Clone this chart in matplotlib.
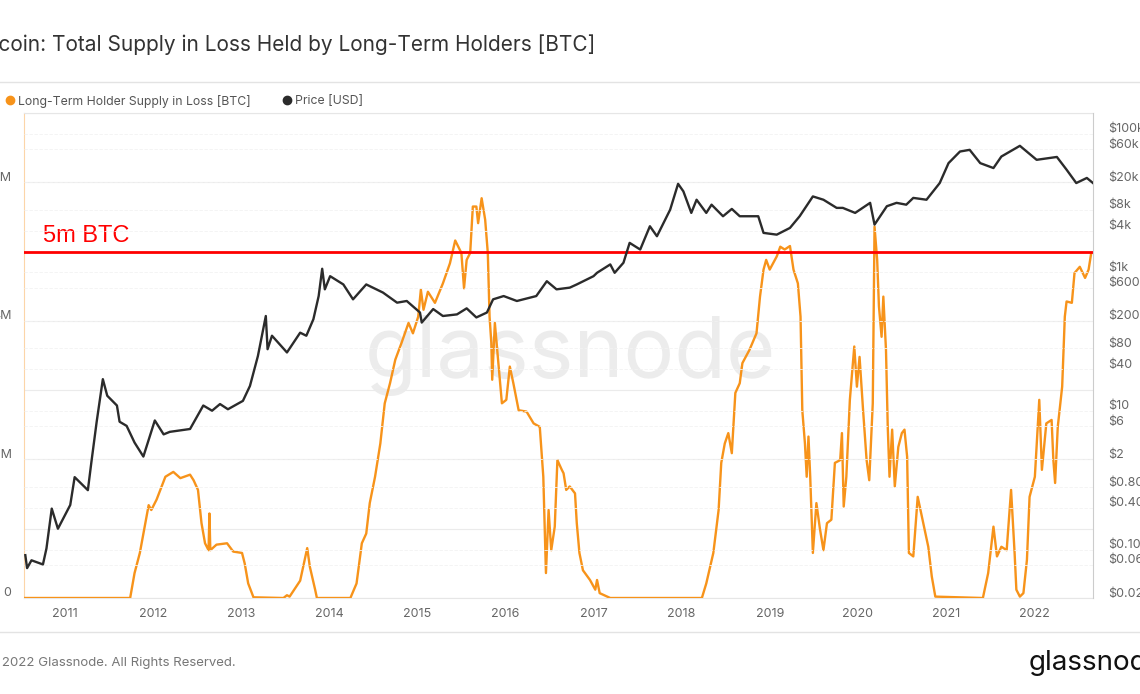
import matplotlib.pyplot as plt
import matplotlib.transforms as mtransforms
from matplotlib.lines import Line2D
from matplotlib.ticker import NullLocator

plt.rcParams['font.family'] = ['Inter', 'DejaVu Sans']

# BTC price [USD], x in decimal years
price_t = [2010.55, 2010.57, 2010.62, 2010.75, 2010.79, 2010.85, 2010.92, 2011.06, 2011.11, 2011.26,
           2011.30, 2011.36, 2011.43, 2011.48, 2011.59, 2011.62, 2011.70, 2011.79, 2011.89, 2012.02,
           2012.12, 2012.19, 2012.42, 2012.57, 2012.67, 2012.76, 2012.85, 2013.02, 2013.10, 2013.19,
           2013.28, 2013.30, 2013.35, 2013.52, 2013.67, 2013.74, 2013.82, 2013.88, 2013.92, 2013.95,
           2014.01, 2014.16, 2014.27, 2014.42, 2014.61, 2014.77, 2014.88, 2015.03, 2015.05, 2015.18,
           2015.29, 2015.45, 2015.56, 2015.67, 2015.79, 2015.86, 2015.98, 2016.13, 2016.35, 2016.47,
           2016.58, 2016.73, 2016.81, 2017.00, 2017.04, 2017.19, 2017.24, 2017.34, 2017.41, 2017.53,
           2017.64, 2017.72, 2017.87, 2017.96, 2018.02, 2018.11, 2018.17, 2018.28, 2018.34, 2018.47,
           2018.57, 2018.66, 2018.87, 2018.93, 2019.08, 2019.23, 2019.34, 2019.49, 2019.61, 2019.76,
           2019.83, 2019.97, 2020.14, 2020.19, 2020.33, 2020.44, 2020.55, 2020.63, 2020.78, 2020.93,
           2021.03, 2021.16, 2021.27, 2021.39, 2021.54, 2021.63, 2021.84, 2022.03, 2022.26, 2022.37,
           2022.48, 2022.60, 2022.67]
price_usd = [0.083, 0.054, 0.07, 0.061, 0.104, 0.39, 0.20, 0.44, 1.11, 0.72,
             1.83, 7.0, 28.8, 16.6, 12.0, 7.0, 6.1, 3.5, 2.2, 7.3,
             4.6, 5.0, 5.5, 12.0, 10.1, 12.6, 10.6, 14.0, 23, 62,
             235, 78, 122, 70, 135, 122, 211, 456, 1130, 570,
             883, 671, 409, 671, 512, 366, 387, 264, 189, 296,
             235, 248, 303, 224, 264, 409, 456, 387, 456, 747,
             570, 603, 671, 883, 988, 1305, 988, 1380, 2670, 2140,
             4640, 3330, 8050, 19000, 14800, 7230, 11200, 7230, 9500, 6470,
             8250, 6470, 6470, 3720, 3510, 4390, 6470, 12500, 11200, 8540,
             8540, 7230, 10100, 4900, 9030, 10100, 9500, 11900, 11200, 19500,
             37800, 55600, 58800, 37800, 32100, 47100, 67200, 42200, 46400, 30400,
             19500, 23100, 19500]

# long-term holder supply in loss [million BTC]
lth_t = [2010.53, 2011.74, 2011.79, 2011.85, 2011.95, 2011.98, 2012.04, 2012.14, 2012.23, 2012.31,
         2012.42, 2012.46, 2012.51, 2012.55, 2012.59, 2012.63, 2012.64, 2012.65, 2012.72, 2012.84,
         2012.91, 2013.01, 2013.04, 2013.08, 2013.14, 2013.48, 2013.52, 2013.55, 2013.67, 2013.75,
         2013.78, 2013.84, 2013.86, 2014.24, 2014.31, 2014.37, 2014.42, 2014.46, 2014.52, 2014.58,
         2014.63, 2014.69, 2014.75, 2014.82, 2014.90, 2014.95, 2015.01, 2015.04, 2015.07, 2015.12,
         2015.20, 2015.29, 2015.37, 2015.43, 2015.50, 2015.53, 2015.56, 2015.60, 2015.63, 2015.67,
         2015.69, 2015.73, 2015.77, 2015.80, 2015.82, 2015.84, 2015.85, 2015.88, 2015.92, 2015.96,
         2016.01, 2016.05, 2016.09, 2016.15, 2016.24, 2016.32, 2016.39, 2016.43, 2016.46, 2016.49,
         2016.52, 2016.56, 2016.59, 2016.64, 2016.66, 2016.69, 2016.73, 2016.79, 2016.81, 2016.84,
         2016.88, 2016.96, 2017.02, 2017.04, 2017.07, 2017.19, 2018.23, 2018.28, 2018.36, 2018.42,
         2018.45, 2018.49, 2018.53, 2018.57, 2018.61, 2018.66, 2018.69, 2018.77, 2018.85, 2018.89,
         2018.93, 2018.96, 2019.00, 2019.08, 2019.12, 2019.17, 2019.23, 2019.27, 2019.32, 2019.35,
         2019.37, 2019.40, 2019.42, 2019.44, 2019.46, 2019.49, 2019.53, 2019.57, 2019.61, 2019.65,
         2019.70, 2019.74, 2019.80, 2019.82, 2019.84, 2019.87, 2019.91, 2019.96, 2019.99, 2020.02,
         2020.06, 2020.10, 2020.13, 2020.16, 2020.17, 2020.19, 2020.22, 2020.24, 2020.27, 2020.29,
         2020.32, 2020.34, 2020.36, 2020.39, 2020.42, 2020.46, 2020.50, 2020.53, 2020.56, 2020.58,
         2020.63, 2020.68, 2020.72, 2020.76, 2020.80, 2020.84, 2020.88, 2021.42, 2021.48, 2021.54,
         2021.58, 2021.63, 2021.69, 2021.74, 2021.78, 2021.80, 2021.84, 2021.88, 2021.92, 2021.95,
         2022.01, 2022.06, 2022.09, 2022.14, 2022.20, 2022.22, 2022.24, 2022.27, 2022.32, 2022.35,
         2022.37, 2022.43, 2022.46, 2022.52, 2022.58, 2022.62, 2022.65]
lth_loss_m = [0, 0, 0.36, 0.65, 1.34, 1.27, 1.42, 1.75, 1.82, 1.73,
              1.78, 1.70, 1.56, 1.08, 0.79, 0.69, 1.22, 0.69, 0.77, 0.79,
              0.67, 0.65, 0.50, 0.21, 0.01, 0, 0.04, 0.02, 0.25, 0.72,
              0.45, 0.12, 0, 0, 0.21, 0.79, 0.93, 1.37, 1.75, 2.23,
              2.81, 3.10, 3.44, 3.68, 3.97, 3.82, 4.06, 4.45, 4.16, 4.42,
              4.26, 4.54, 4.83, 5.16, 4.98, 4.47, 4.88, 4.98, 5.65, 5.65,
              5.41, 5.77, 5.46, 4.98, 4.06, 3.68, 3.15, 3.97, 3.39, 2.81,
              2.86, 3.34, 3.10, 2.71, 2.69, 2.52, 2.47, 1.75, 0.36, 1.27,
              0.69, 1.03, 1.99, 1.85, 1.80, 1.56, 1.61, 1.51, 1.08, 0.65,
              0.40, 0.26, 0.12, 0.26, 0.07, 0, 0, 0.21, 0.65, 1.27,
              1.95, 2.23, 2.38, 2.09, 2.96, 3.10, 3.39, 3.58, 3.82, 4.35,
              4.74, 4.88, 4.74, 4.93, 5.07, 5.03, 5.08, 4.74, 4.54, 4.06,
              2.71, 2.23, 1.75, 2.33, 1.75, 0.65, 1.37, 1.0, 0.69, 1.08,
              1.13, 1.95, 1.99, 2.38, 1.32, 1.75, 2.86, 3.63, 3.05, 3.48,
              2.71, 1.99, 1.70, 2.52, 2.81, 5.36, 4.88, 4.21, 3.77, 4.35,
              3.58, 2.47, 1.75, 2.43, 1.61, 2.18, 2.38, 2.43, 2.04, 0.65,
              0.60, 1.46, 1.22, 0.98, 0.74, 0.31, 0.02, 0, 0.36, 1.03,
              0.60, 0.74, 0.69, 1.56, 0.65, 0.12, 0.02, 0.07, 0.55, 1.46,
              1.75, 2.86, 1.85, 2.52, 2.57, 1.99, 1.66, 2.47, 3.05, 4.06,
              4.28, 4.26, 4.69, 4.78, 4.62, 4.74, 4.98]

years = list(range(2011, 2023))
left_ticks = [0, 2, 4, 6]
left_labels = ['0', '2M', '4M', '6M']
price_ticks = [100000, 60000, 20000, 8000, 4000, 1000, 600, 200, 80, 40, 10, 6, 2, 0.8, 0.4, 0.1, 0.06, 0.02]
price_labels = ['$100k', '$60k', '$20k', '$8k', '$4k', '$1k', '$600', '$200', '$80', '$40',
                '$10', '$6', '$2', '$0.80', '$0.40', '$0.10', '$0.06', '$0.02']
threshold = 5.0

W, H = 1140, 694
fig = plt.figure(figsize=(W / 100, H / 100), dpi=100)
ax = fig.add_axes([24 / W, 96 / H, 1069 / W, 485 / H])

# watermark, kept behind the axes
fig.text(570 / W, 1 - 356 / H, 'glassnode', ha='center', va='center', fontsize=61,
         color='#ececec', zorder=-1)
ax.patch.set_alpha(0)

ax.plot(lth_t, lth_loss_m, color='#f7931a', lw=1.7, zorder=3)
ax.axhline(threshold, color='#ff0000', lw=2, zorder=4)
ax.text(2010.75, 5.22, '5m BTC', color='#ff0000', fontsize=17, va='center',
        family='Liberation Sans')
ax.set_xlim(2010.535, 2022.67)
ax.set_ylim(0, 7.0)
ax.set_xticks(years)
ax.set_xticklabels([str(y) for y in years])
ax.set_yticks(left_ticks)
ax.set_yticklabels(left_labels)
ax.set_yticks([1, 3, 5, 7], minor=True)
ax.grid(axis='y', which='both', color='#ebebeb', lw=0.8)
ax.tick_params(axis='both', which='both', length=0, labelsize=9, colors='#666666')
ax.tick_params(axis='y', pad=9)
ax.tick_params(axis='x', pad=7)
ax.spines['left'].set_color('#fcd5a8')
ax.spines['right'].set_visible(False)
ax.spines['top'].set_color('#e6e6e6')
ax.spines['bottom'].set_color('#e6e6e6')

ax2 = ax.twinx()
ax2.plot(price_t, price_usd, color='#2b2b2b', lw=1.7, zorder=3)
ax2.set_yscale('log')
ax2.set_ylim(0.0211, 200000)
ax2.set_yticks(price_ticks)
ax2.set_yticklabels(price_labels)
ax2.yaxis.set_minor_locator(NullLocator())
ax2.grid(axis='y', color='#f2f2f2', lw=0.6, ls=(0, (4, 2)))
ax2.tick_params(axis='y', length=0, labelsize=9, colors='#666666', pad=11)
ax2.spines['right'].set_color('#cccccc')
for s in ['left', 'top', 'bottom']:
    ax2.spines[s].set_visible(False)

# glassnode puts the axis labels a little above their grid lines
shift = mtransforms.ScaledTranslation(0, 0.06, fig.dpi_scale_trans)
for lab in ax.get_yticklabels() + ax2.get_yticklabels():
    lab.set_transform(lab.get_transform() + shift)

fig.text(595 / W, 1 - 45 / H, 'Bitcoin: Total Supply in Loss Held by Long-Term Holders [BTC]',
         ha='right', va='center', fontsize=15, color='#333333')
fig.add_artist(Line2D([0, 1], [1 - 82 / H] * 2, color='#e3e3e3', lw=1))
fig.add_artist(Line2D([0, 1], [1 - 632 / H] * 2, color='#e3e3e3', lw=1))

handles = [Line2D([], [], marker='o', ls='', color='#f7931a', markersize=6),
           Line2D([], [], marker='o', ls='', color='#2b2b2b', markersize=6)]
fig.legend(handles, ['Long-Term Holder Supply in Loss [BTC]', 'Price [USD]'],
           loc='center left', bbox_to_anchor=(6 / W, 1 - 101 / H), ncol=2, frameon=False,
           fontsize=8.8, handlelength=0.7, handletextpad=0.3, columnspacing=2.6,
           borderpad=0, borderaxespad=0, labelcolor='#555555')

fig.text(236 / W, 1 - 663 / H, '\u00a9 2022 Glassnode. All Rights Reserved.', ha='right',
         va='center', fontsize=9.5, color='#777777')
fig.text(1029 / W, 1 - 663 / H, 'glassnode', ha='left', va='center', fontsize=20,
         color='#111111')

fig.savefig('out.png', dpi=100)
